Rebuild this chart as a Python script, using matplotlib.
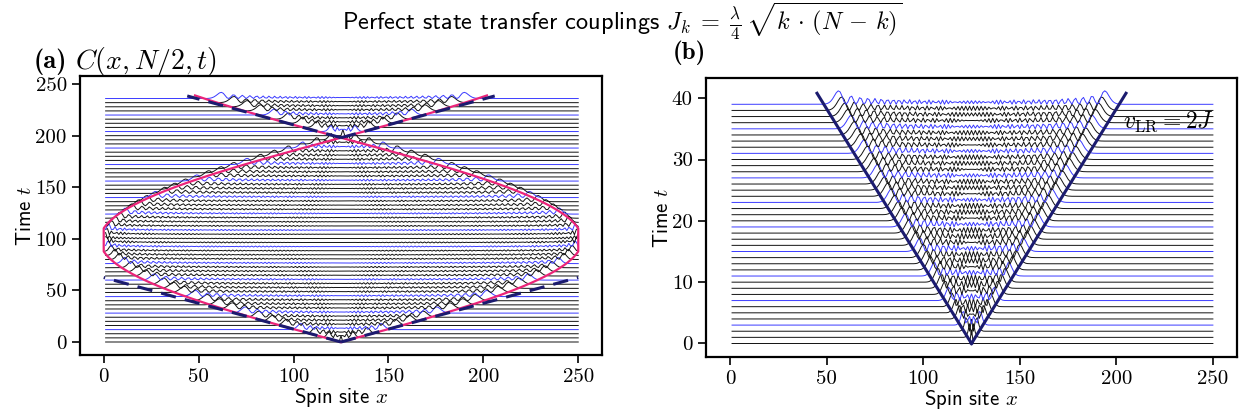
import numpy as np
import matplotlib.pyplot as plt

plt.rcParams['mathtext.fontset'] = 'cm'
plt.rcParams['font.family'] = ['cmss10', 'DejaVu Sans']
plt.rcParams['axes.unicode_minus'] = False

# chain parameters (perfect state transfer couplings)
N = 250
lam = np.pi / 100
center = 125

# times of the traces in the two panels
times_a = np.arange(0, 237, 4)
times_b = np.arange(0, 40, 1)

# trace heights (in units of t) and colours
amp_a = 6.0
amp_b = 2.2
black = '#111111'
blue = '#3a3aff'
navy = '#1b1b6f'
pink = '#ec2479'

# envelope / light cone parameters
env_amp = 127.0
env_period = 198.0
v_lr = 2.0
refocus_t = 198.0

sites = np.arange(1, N + 1)
k = np.arange(1, N)
J = lam / 4 * np.sqrt(k * (N - k))
H = np.diag(J, 1) + np.diag(J, -1)
E, V = np.linalg.eigh(H)


def corr(t):
    a = V @ (np.exp(-1j * E * t) * V[center - 1, :])
    return np.abs(a) ** 2


fig = plt.figure(figsize=(12.44, 4.19), dpi=100)
ax_a = fig.add_axes([0.0643, 0.153, 0.4196, 0.666])
ax_b = fig.add_axes([0.5675, 0.148, 0.4269, 0.666])

# panel (a)
for i, t in enumerate(times_a):
    c = corr(t)
    col = blue if i % 4 == 3 else black
    ax_a.plot(sites, t + amp_a * c / c.max(), color=col, lw=0.7)

te = np.linspace(0, 239, 600)
disp = np.minimum(125, env_amp * np.abs(np.sin(np.pi * te / env_period)))
ax_a.plot(center - disp, te, color=pink, lw=1.6)
ax_a.plot(center + disp, te, color=pink, lw=1.6)

tl = np.array([0, 62.5])
ax_a.plot(center - v_lr * tl, tl, '--', color=navy, lw=2.2, dashes=(5, 3))
ax_a.plot(center + v_lr * tl, tl, '--', color=navy, lw=2.2, dashes=(5, 3))
tu = np.array([refocus_t, 238.5])
ax_a.plot(center - v_lr * (tu - refocus_t), tu, '--', color=navy, lw=2.2, dashes=(5, 3))
ax_a.plot(center + v_lr * (tu - refocus_t), tu, '--', color=navy, lw=2.2, dashes=(5, 3))

ax_a.set_xlim(-12.5, 262.5)
ax_a.set_ylim(-12.5, 258)
ax_a.set_xticks([0, 50, 100, 150, 200, 250])
ax_a.set_yticks([0, 50, 100, 150, 200, 250])

# panel (b)
for i, t in enumerate(times_b):
    c = corr(t)
    col = blue if i % 4 == 3 else black
    ax_b.plot(sites, t + amp_b * c / c.max(), color=col, lw=0.7)

tc = np.array([0, 40.8])
vb = 80 / 40.8
ax_b.plot(center - vb * tc, tc, color=navy, lw=2.2)
ax_b.plot(center + vb * tc, tc, color=navy, lw=2.2)
ax_b.text(227, 36.2, r'$v_{\rm LR} = 2J$', ha='center', va='center', fontsize=17)

ax_b.set_xlim(-12.5, 262.5)
ax_b.set_ylim(-2.2, 43.3)
ax_b.set_xticks([0, 50, 100, 150, 200, 250])
ax_b.set_yticks([0, 10, 20, 30, 40])

for ax in (ax_a, ax_b):
    for s in ax.spines.values():
        s.set_linewidth(1.6)
    ax.tick_params(labelsize=15, length=6, width=1.2, labelfontfamily='cmr10')
    ax.set_xlabel(r'Spin site $x$', fontsize=15, labelpad=0)
    ax.set_ylabel(r'Time $t$', fontsize=15, labelpad=0)

fig.suptitle(r'Perfect state transfer couplings '
             r'$J_k \;=\; \frac{\lambda}{4}\,\sqrt{k \,\cdot\, (N\,-\,k)}$',
             fontsize=17.5, y=1.0)
fig.text(0.027, 0.853, '(a)', family='cmb10', fontsize=19, va='center')
fig.text(0.060, 0.853, r'$C(x,N/2,t)$', fontsize=20, va='center')
fig.text(0.541, 0.873, '(b)', family='cmb10', fontsize=18, va='center')

fig.savefig('out.png', dpi=100)
